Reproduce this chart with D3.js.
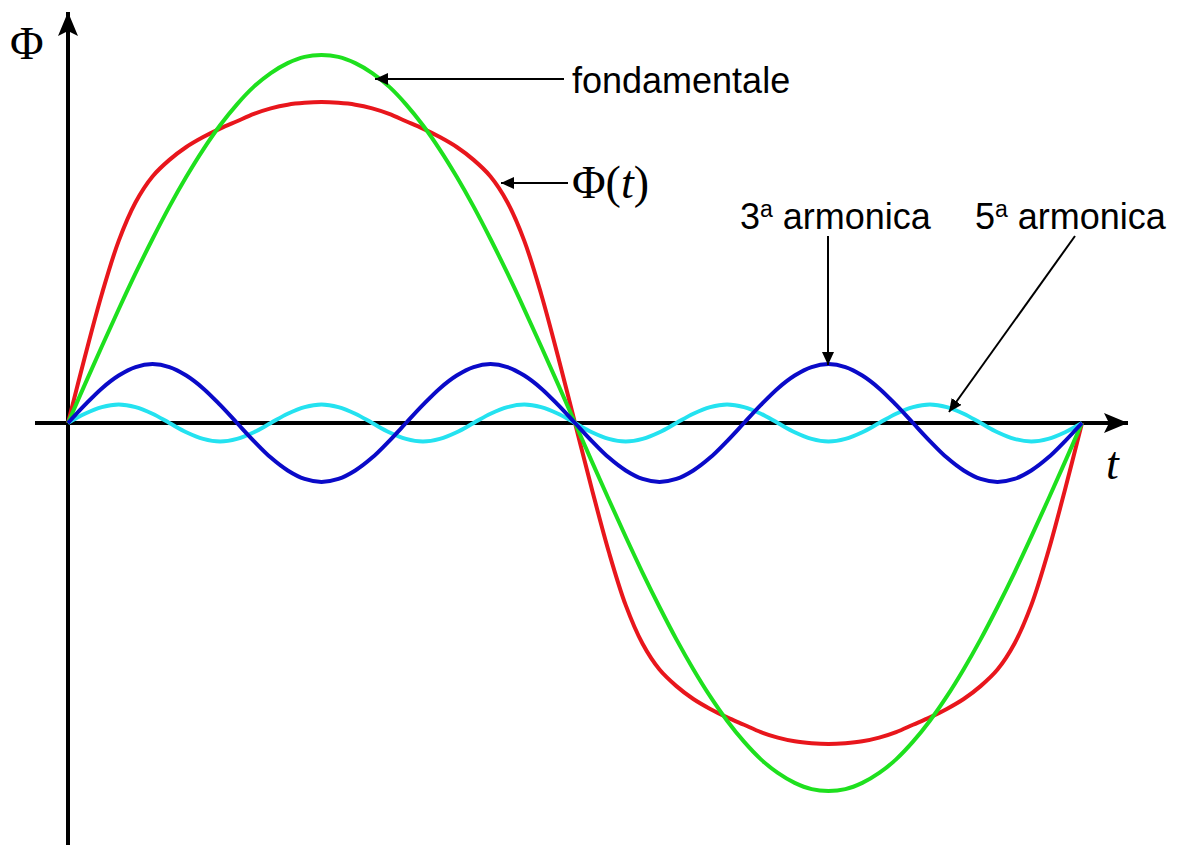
<!DOCTYPE html>
<html>
<head>
<meta charset="utf-8">
<script src="https://cdn.jsdelivr.net/npm/d3@7"></script>
<style>
  html, body { margin: 0; padding: 0; background: #ffffff; }
  svg { display: block; }
</style>
</head>
<body>
<script>
// Phase angle over one period (degrees)
const tDeg = [0,6,12,18,24,30,36,42,48,54,60,66,72,78,84,90,96,102,108,114,120,126,132,138,144,150,156,162,168,174,180,
  186,192,198,204,210,216,222,228,234,240,246,252,258,264,270,276,282,288,294,300,306,312,318,324,330,336,342,348,354,360];

// Fundamental
const fondamentale = [0,.105,.208,.309,.407,.5,.588,.669,.743,.809,.866,.914,.951,.978,.995,1,.995,.978,.951,.914,.866,.809,.743,.669,.588,.5,.407,.309,.208,.105,0,
  -.105,-.208,-.309,-.407,-.5,-.588,-.669,-.743,-.809,-.866,-.914,-.951,-.978,-.995,-1,-.995,-.978,-.951,-.914,-.866,-.809,-.743,-.669,-.588,-.5,-.407,-.309,-.208,-.105,0];

// Third harmonic
const armonica3 = [0,.049,.094,.129,.152,.16,.152,.129,.094,.049,0,-.049,-.094,-.129,-.152,-.16,-.152,-.129,-.094,-.049,
  0,.049,.094,.129,.152,.16,.152,.129,.094,.049,0,-.049,-.094,-.129,-.152,-.16,-.152,-.129,-.094,-.049,
  0,.049,.094,.129,.152,.16,.152,.129,.094,.049,0,-.049,-.094,-.129,-.152,-.16,-.152,-.129,-.094,-.049,0];

// Fifth harmonic
const armonica5 = [0,.025,.043,.05,.043,.025,0,-.025,-.043,-.05,-.043,-.025,
  0,.025,.043,.05,.043,.025,0,-.025,-.043,-.05,-.043,-.025,
  0,.025,.043,.05,.043,.025,0,-.025,-.043,-.05,-.043,-.025,
  0,.025,.043,.05,.043,.025,0,-.025,-.043,-.05,-.043,-.025,
  0,.025,.043,.05,.043,.025,0,-.025,-.043,-.05,-.043,-.025,0];

// Resulting flux Φ(t)
const phiT = [0,.18,.35,.495,.60,.67,.715,.75,.777,.80,.82,.84,.855,.865,.87,.872,.87,.865,.855,.84,.82,.80,.777,.75,.715,.67,.60,.495,.35,.18,0,
  -.18,-.35,-.495,-.60,-.67,-.715,-.75,-.777,-.80,-.82,-.84,-.855,-.865,-.87,-.872,-.87,-.865,-.855,-.84,-.82,-.80,-.777,-.75,-.715,-.67,-.60,-.495,-.35,-.18,0];

const W = 1179, H = 845;
const svg = d3.select("body").append("svg").attr("width", W).attr("height", H);

const x = d3.scaleLinear().domain([0, 360]).range([68, 1082]);
const y = d3.scaleLinear().domain([-1, 1]).range([791, 55]);

// Arrow markers
const defs = svg.append("defs");
defs.append("marker").attr("id", "axisHead")
  .attr("viewBox", "0 0 24 20").attr("refX", 24).attr("refY", 10)
  .attr("markerWidth", 24).attr("markerHeight", 20).attr("markerUnits", "userSpaceOnUse")
  .attr("orient", "auto")
  .append("path").attr("d", "M0,0 L24,10 L0,20 L5,10 Z").attr("fill", "#000");
defs.append("marker").attr("id", "noteHead")
  .attr("viewBox", "0 0 13 12").attr("refX", 13).attr("refY", 6)
  .attr("markerWidth", 13).attr("markerHeight", 12).attr("markerUnits", "userSpaceOnUse")
  .attr("orient", "auto")
  .append("path").attr("d", "M0,0 L13,6 L0,12 Z").attr("fill", "#000");

// Axes
svg.append("line")
  .attr("x1", 35).attr("y1", y(0)).attr("x2", 1128).attr("y2", y(0))
  .attr("stroke", "#000").attr("stroke-width", 4).attr("marker-end", "url(#axisHead)");
svg.append("line")
  .attr("x1", x(0)).attr("y1", H).attr("x2", x(0)).attr("y2", 12)
  .attr("stroke", "#000").attr("stroke-width", 4).attr("marker-end", "url(#axisHead)");

// Curves
const line = d3.line()
  .x((d, i) => x(tDeg[i]))
  .y(d => y(d))
  .curve(d3.curveCatmullRom.alpha(0.5));

const series = [
  { values: phiT, color: "#e8161c" },
  { values: fondamentale, color: "#1ee01e" },
  { values: armonica5, color: "#24e2f0" },
  { values: armonica3, color: "#0a0ac8" }
];
svg.selectAll("path.curve").data(series).enter().append("path")
  .attr("class", "curve")
  .attr("d", d => line(d.values))
  .attr("fill", "none")
  .attr("stroke", d => d.color)
  .attr("stroke-width", 4)
  .attr("stroke-linejoin", "round");

// Axis labels
svg.append("text").attr("x", 10).attr("y", 59)
  .attr("font-family", "'Liberation Serif', 'Times New Roman', serif")
  .attr("font-size", 46).text("Φ");
svg.append("text").attr("x", 1106).attr("y", 479)
  .attr("font-family", "'Liberation Serif', 'Times New Roman', serif")
  .attr("font-style", "italic").attr("font-size", 46).text("t");

// Annotations
const sans = "'Liberation Sans', Arial, sans-serif";
function note(x1, y1, x2, y2) {
  svg.append("line").attr("x1", x1).attr("y1", y1).attr("x2", x2).attr("y2", y2)
    .attr("stroke", "#000").attr("stroke-width", 2).attr("marker-end", "url(#noteHead)");
}

note(564, 79, 375, 79);
svg.append("text").attr("x", 572).attr("y", 93)
  .attr("font-family", sans).attr("font-size", 36).text("fondamentale");

note(568, 183, 501, 183);
const phiLabel = svg.append("text").attr("x", 572).attr("y", 198)
  .attr("font-family", "'Liberation Serif', 'Times New Roman', serif").attr("font-size", 46);
phiLabel.append("tspan").text("Φ(");
phiLabel.append("tspan").attr("font-style", "italic").text("t");
phiLabel.append("tspan").text(")");

function harmonicLabel(xp, num) {
  const t = svg.append("text").attr("x", xp).attr("y", 229)
    .attr("font-family", sans).attr("font-size", 36);
  t.append("tspan").text(num);
  t.append("tspan").attr("font-size", 23).attr("dy", -12).text("a");
  t.append("tspan").attr("dy", 12).text(" armonica");
}
harmonicLabel(740, "3");
harmonicLabel(975, "5");

note(828, 236, 828, 365);
note(1075, 236, 949, 412);
</script>
</body>
</html>
